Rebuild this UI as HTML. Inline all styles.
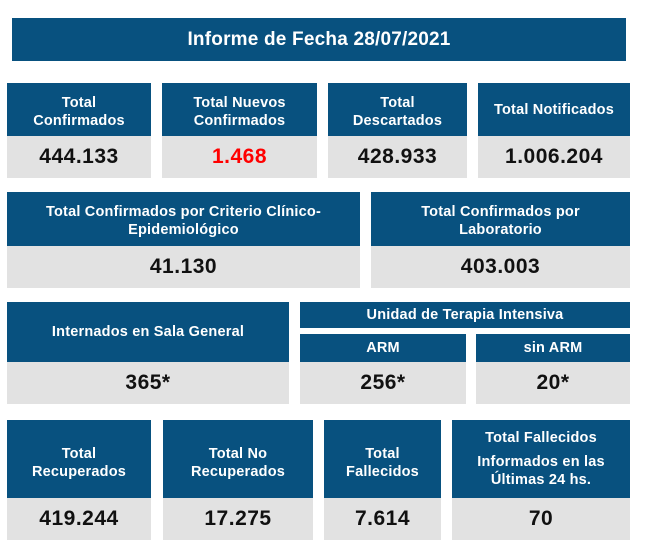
<!DOCTYPE html>
<html><head><style>
body{margin:0;width:646px;height:557px;background:#fff;position:relative;font-family:"Liberation Sans",sans-serif;font-weight:bold;overflow:hidden}
.b{position:absolute;background:#08517f;color:#fff;display:flex;align-items:center;justify-content:center;text-align:center;font-size:14.5px;line-height:18px;letter-spacing:0.2px}
.v{position:absolute;background:#e2e2e2;color:#111;display:flex;align-items:center;justify-content:center;font-size:21px;letter-spacing:0.5px}
</style></head><body>
<div class="b" style="left:12px;top:18px;width:614px;height:43px;font-size:19px">Informe de Fecha 28/07/2021</div>

<div class="b" style="left:7px;top:83px;width:144px;height:53px;padding-top:4px;box-sizing:border-box">Total<br>Confirmados</div>
<div class="v" style="left:7px;top:136px;width:144px;height:42px">444.133</div>
<div class="b" style="left:162px;top:83px;width:155px;height:53px;padding-top:4px;box-sizing:border-box">Total Nuevos<br>Confirmados</div>
<div class="v" style="left:162px;top:136px;width:155px;height:42px;color:#f00">1.468</div>
<div class="b" style="left:328px;top:83px;width:139px;height:53px;padding-top:4px;box-sizing:border-box">Total<br>Descartados</div>
<div class="v" style="left:328px;top:136px;width:139px;height:42px">428.933</div>
<div class="b" style="left:478px;top:83px;width:152px;height:53px">Total Notificados</div>
<div class="v" style="left:478px;top:136px;width:152px;height:42px">1.006.204</div>

<div class="b" style="left:7px;top:192px;width:353px;height:54px;padding-top:4px;box-sizing:border-box">Total Confirmados por Criterio Clínico-<br>Epidemiológico</div>
<div class="v" style="left:7px;top:246px;width:353px;height:42px">41.130</div>
<div class="b" style="left:371px;top:192px;width:259px;height:54px;padding-top:4px;box-sizing:border-box">Total Confirmados por<br>Laboratorio</div>
<div class="v" style="left:371px;top:246px;width:259px;height:42px">403.003</div>

<div class="b" style="left:7px;top:302px;width:282px;height:60px">Internados en Sala General</div>
<div class="v" style="left:7px;top:362px;width:282px;height:42px">365*</div>
<div class="b" style="left:300px;top:302px;width:330px;height:26px">Unidad de Terapia Intensiva</div>
<div class="b" style="left:300px;top:334px;width:166px;height:28px">ARM</div>
<div class="v" style="left:300px;top:362px;width:166px;height:42px">256*</div>
<div class="b" style="left:476px;top:334px;width:154px;height:28px">sin ARM</div>
<div class="v" style="left:476px;top:362px;width:154px;height:42px">20*</div>

<div class="b" style="left:7px;top:420px;width:144px;height:78px;padding-top:8px;box-sizing:border-box">Total<br>Recuperados</div>
<div class="v" style="left:7px;top:498px;width:144px;height:42px">419.244</div>
<div class="b" style="left:163px;top:420px;width:150px;height:78px;padding-top:8px;box-sizing:border-box">Total No<br>Recuperados</div>
<div class="v" style="left:163px;top:498px;width:150px;height:42px">17.275</div>
<div class="b" style="left:324px;top:420px;width:117px;height:78px;padding-top:8px;box-sizing:border-box">Total<br>Fallecidos</div>
<div class="v" style="left:324px;top:498px;width:117px;height:42px">7.614</div>
<div class="b" style="left:452px;top:420px;width:178px;height:78px;flex-direction:column"><div>Total Fallecidos</div><div style="margin-top:6px">Informados en las<br>Últimas 24 hs.</div></div>
<div class="v" style="left:452px;top:498px;width:178px;height:42px">70</div>
</body></html>
